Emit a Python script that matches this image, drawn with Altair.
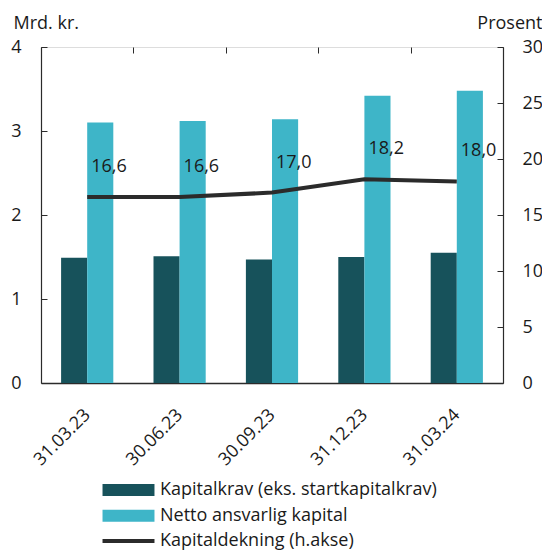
import altair as alt
import pandas as pd

# ---- data ----
datoer = ["31.03.23", "30.06.23", "30.09.23", "31.12.23", "31.03.24"]
kapitalkrav = [1.49, 1.51, 1.47, 1.50, 1.55]
netto_ansvarlig = [3.10, 3.12, 3.14, 3.42, 3.48]
kapitaldekning = [16.6, 16.6, 17.0, 18.2, 18.0]
serie_bar = ["Kapitalkrav (eks. startkapitalkrav)", "Netto ansvarlig kapital"]
serie_linje = ["Kapitaldekning (h.akse)"]
venstre_ticks = [0, 1, 2, 3, 4]
hoyre_ticks = [0, 5, 10, 15, 20, 25, 30]

farger_bar = ["#17525b", "#3eb5c8"]
farge_linje = ["#2b2b2b"]
TXT = "#1a1a1a"
AX = "#2b2b2b"
FONT = "Open Sans"
FS = 18

bar_df = pd.DataFrame({
    "dato": datoer * 2,
    "serie": [serie_bar[0]] * len(datoer) + [serie_bar[1]] * len(datoer),
    "verdi": kapitalkrav + netto_ansvarlig,
})
line_df = pd.DataFrame({
    "dato": datoer,
    "serie": serie_linje * len(datoer),
    "verdi": kapitaldekning,
    "etikett": [f"{v:.1f}".replace(".", ",") for v in kapitaldekning],
})

W, H = 462, 336

x_enc = alt.X(
    "dato:N", sort=datoer, title=None,
    scale=alt.Scale(paddingInner=0, paddingOuter=0),
    axis=alt.Axis(
        labelAngle=-45, labelAlign="right", labelBaseline="middle",
        labelPadding=29, ticks=False, tickBand="extent",
        grid=True, gridDash=[6, 2000], gridColor=AX, gridWidth=1, gridOpacity=1,
        domainColor=AX, domainWidth=1.5,
        labelFont=FONT, labelFontSize=FS, labelColor=TXT,
    ),
)

y_left = alt.Y(
    "verdi:Q", title="Mrd. kr.",
    scale=alt.Scale(domain=[0, 4], nice=False),
    axis=alt.Axis(
        values=venstre_ticks, format="d", ticks=False, labelPadding=20,
        grid=True, gridDash=[6, 2000], gridColor=AX, gridWidth=1, gridOpacity=1,
        domainColor=AX, domainWidth=1.2,
        labelFont=FONT, labelFontSize=FS, labelColor=TXT,
        titleAngle=0, titleAlign="left", titleBaseline="alphabetic",
        titleX=-28, titleY=-19, titleFont=FONT, titleFontSize=FS,
        titleFontWeight="normal", titleColor=TXT,
    ),
)

y_right = alt.Y(
    "verdi:Q", title="Prosent",
    scale=alt.Scale(domain=[0, 30], nice=False),
    axis=alt.Axis(
        orient="right", values=hoyre_ticks, format="d", ticks=False, labelPadding=19,
        grid=True, gridDash=[6, 2000], gridColor=AX, gridWidth=1, gridOpacity=1,
        domainColor=AX, domainWidth=1.2,
        labelFont=FONT, labelFontSize=FS, labelColor=TXT,
        titleAngle=0, titleAlign="right", titleBaseline="alphabetic",
        titleX=39, titleY=-19, titleFont=FONT, titleFontSize=FS,
        titleFontWeight="normal", titleColor=TXT,
    ),
)

RECT = "M-4.33,-1H4.33V1H-4.33Z"
LINE = "M-4.33,-0.33H4.33V0.33H-4.33Z"

bars = alt.Chart(bar_df).mark_bar().encode(
    x=x_enc,
    xOffset=alt.XOffset("serie:N", sort=serie_bar,
                        scale=alt.Scale(paddingInner=0, paddingOuter=0.77)),
    y=y_left,
    fill=alt.Fill(
        "serie:N", sort=serie_bar,
        scale=alt.Scale(domain=serie_bar, range=farger_bar),
        legend=alt.Legend(
            orient="none", legendX=78.5, legendY=434, title=None, padding=0,
            symbolType=RECT, symbolSize=144,
            symbolStrokeWidth=0, labelOffset=22.5, rowPadding=7.7,
            labelFont=FONT, labelFontSize=FS, labelColor=TXT, labelLimit=400,
        ),
    ),
)

line = alt.Chart(line_df).mark_line(strokeWidth=4).encode(
    x=x_enc,
    y=y_right,
    stroke=alt.Stroke(
        "serie:N",
        scale=alt.Scale(domain=serie_linje, range=farge_linje),
        legend=alt.Legend(
            orient="none", legendX=78.5, legendY=485, title=None, padding=0,
            symbolType=LINE, symbolSize=144, symbolStrokeWidth=0,
            symbolFillColor=farge_linje[0],
            labelOffset=22.5, labelFont=FONT, labelFontSize=FS, labelColor=TXT,
            labelLimit=400,
        ),
    ),
)

labels = alt.Chart(line_df).mark_text(
    align="left", baseline="middle", dx=4, dy=-30,
    font=FONT, fontSize=FS, color=TXT,
).encode(
    x=x_enc,
    y=y_right,
    text="etikett:N",
)

chart = alt.layer(
    bars, alt.layer(line, labels)
).resolve_scale(
    y="independent", fill="independent", stroke="independent"
).properties(
    width=W, height=H,
    autosize=alt.AutoSizeParams(type="none"),
    padding={"left": 33, "top": 39, "right": 39, "bottom": 168},
).configure_view(stroke=None).configure(background="white")

chart.save("out.html", embed_options={"renderer": "svg", "actions": False})
